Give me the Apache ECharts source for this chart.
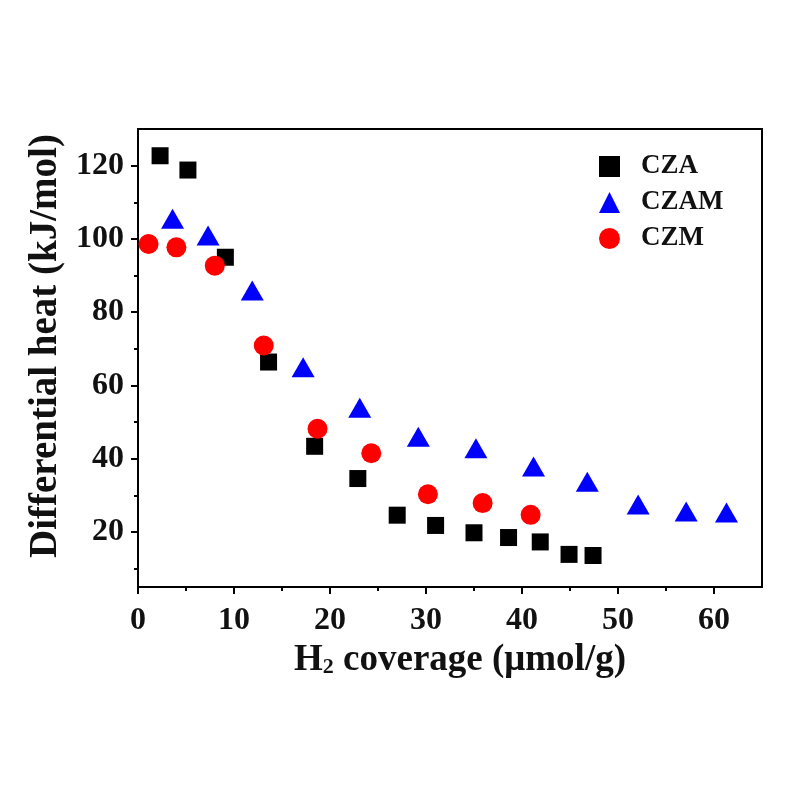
<!DOCTYPE html>
<html>
<head>
<meta charset="utf-8">
<script src="https://cdn.jsdelivr.net/npm/echarts@6/dist/echarts.min.js"></script>
<style>
html,body{margin:0;padding:0;background:#fff;}
#chart{width:790px;height:790px;}
</style>
</head>
<body>
<div id="chart"></div>
<script>
// ---- data ----
const czaX  = [2.3, 5.2, 9.1, 13.6, 18.4, 22.9, 27.0, 31.0, 35.0, 38.6, 41.9, 44.9, 47.4];
const czaY  = [122.7, 118.8, 95.0, 66.4, 43.4, 34.6, 24.6, 21.8, 19.8, 18.5, 17.3, 13.9, 13.6];
const czamX = [3.6, 7.3, 11.9, 17.2, 23.1, 29.2, 35.2, 41.2, 46.8, 52.1, 57.1, 61.3];
const czamY = [105.5, 100.9, 85.9, 65.0, 53.9, 46.0, 42.9, 37.9, 33.7, 27.5, 25.6, 25.3];
const czmX  = [1.1, 4.0, 8.0, 13.1, 18.7, 24.3, 30.2, 35.9, 40.9];
const czmY  = [98.6, 97.7, 92.7, 70.9, 48.2, 41.5, 30.3, 27.9, 24.7];

const xTicks = [0, 10, 20, 30, 40, 50, 60];
const xMinorTicks = [5, 15, 25, 35, 45, 55];
const yTicks = [20, 40, 60, 80, 100, 120];
const yMinorTicks = [10, 30, 50, 70, 90, 110];

const seriesNames = ['CZA', 'CZAM', 'CZM'];

const zip = (xs, ys) => xs.map((x, i) => [x, ys[i]]);

const FONT = '"Liberation Serif", "Times New Roman", serif';
const chart = echarts.init(document.getElementById('chart'), null, {renderer: 'canvas'});

const grid = {left: 138, right: 28, top: 129, bottom: 203, show: true, borderColor: '#000', borderWidth: 2, backgroundColor: 'transparent'};

const baseAxis = {
  axisLine: {show: true, onZero: false, lineStyle: {color: '#000', width: 2}},
  splitLine: {show: false}
};

const option = {
  backgroundColor: '#fff',
  animation: false,
  grid: grid,
  legend: {
    orient: 'vertical',
    left: 594,
    top: 148,
    itemWidth: 21,
    itemHeight: 21,
    itemGap: 9,
    data: seriesNames,
    textStyle: {fontFamily: FONT, fontWeight: 'bold', fontSize: 27, color: '#111', lineHeight: 22, padding: [0, 0, 0, 16]}
  },
  xAxis: [
    Object.assign({}, baseAxis, {
      type: 'value', min: 0, max: 65,
      name: '{a|H}{s|2}{a| coverage (μmol/g)}',
      nameLocation: 'middle', nameGap: 54,
      nameTextStyle: {padding: [0, 0, 0, 20], rich: {
        a: {fontFamily: FONT, fontWeight: 'bold', fontSize: 37, color: '#111'},
        s: {fontFamily: FONT, fontWeight: 'bold', fontSize: 22, color: '#111', padding: [14, 0, 0, 0]}
      }},
      axisTick: {show: true, inside: false, length: 7, lineStyle: {color: '#000', width: 2}, customValues: xTicks},
      axisLabel: {show: true, customValues: xTicks, margin: 18, fontFamily: FONT, fontWeight: 'bold', fontSize: 32, color: '#111'}
    }),
    Object.assign({}, baseAxis, {
      type: 'value', min: 0, max: 65, position: 'bottom', offset: 0,
      axisLine: {show: false},
      axisTick: {show: true, inside: false, length: 4, lineStyle: {color: '#000', width: 2}, customValues: xMinorTicks},
      axisLabel: {show: false}
    })
  ],
  yAxis: [
    Object.assign({}, baseAxis, {
      type: 'value', min: 5, max: 130,
      name: 'Differential heat (kJ/mol)',
      nameLocation: 'middle', nameGap: 72,
      nameTextStyle: {fontFamily: FONT, fontWeight: 'bold', fontSize: 39, color: '#111', padding: [0, 0, 0, 24]},
      axisTick: {show: true, inside: false, length: 7, lineStyle: {color: '#000', width: 2}, customValues: yTicks},
      axisLabel: {show: true, customValues: yTicks, margin: 14, fontFamily: FONT, fontWeight: 'bold', fontSize: 32, color: '#111'}
    }),
    Object.assign({}, baseAxis, {
      type: 'value', min: 5, max: 130, position: 'left', offset: 0,
      axisLine: {show: false},
      axisTick: {show: true, inside: false, length: 4, lineStyle: {color: '#000', width: 2}, customValues: yMinorTicks},
      axisLabel: {show: false}
    })
  ],
  series: [
    {name: 'CZA', type: 'scatter', symbol: 'rect', symbolSize: 17, itemStyle: {color: '#000000', opacity: 1}, data: zip(czaX, czaY)},
    {name: 'CZAM', type: 'scatter', symbol: 'triangle', symbolSize: [23, 20], itemStyle: {color: '#0000ff', opacity: 1}, data: zip(czamX, czamY)},
    {name: 'CZM', type: 'scatter', symbol: 'circle', symbolSize: 20, itemStyle: {color: '#ff0000', opacity: 1}, data: zip(czmX, czmY)}
  ]
};
chart.setOption(option);
</script>
</body>
</html>
